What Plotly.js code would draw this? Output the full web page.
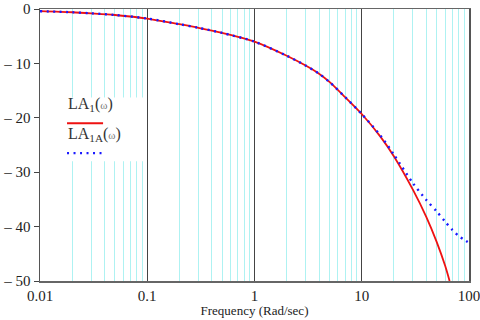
<!DOCTYPE html>
<html>
<head>
<meta charset="utf-8">
<script src="https://cdn.plot.ly/plotly-3.0.1.min.js"></script>
<style>html,body{margin:0;padding:0;background:#fff;overflow:hidden;}#chart{width:486px;height:320px;}</style>
</head>
<body>
<div id="chart"></div>
<script>
// Frequencies (rad/sec) and values
const freqRed = [0.01, 0.02, 0.03, 0.05, 0.1, 0.2, 0.3, 0.5, 1, 2, 3, 4, 5, 7, 10, 15, 20, 30, 40, 50, 60, 66];
const la1     = [-0.4, -0.6, -0.8, -1.1, -1.75, -2.8, -3.45, -4.4, -6.0, -8.6, -10.4, -11.9, -13.4, -16.2, -19.3, -23.5, -27.1, -33.2, -38.2, -42.8, -47.2, -50];
const freqBlue = [0.01, 0.02, 0.03, 0.05, 0.1, 0.2, 0.3, 0.5, 1, 2, 3, 4, 5, 7, 10, 15, 20, 30, 40, 50, 60, 70, 80, 90, 100];
const la1a     = [-0.4, -0.6, -0.8, -1.1, -1.75, -2.8, -3.45, -4.4, -6.0, -8.6, -10.4, -11.9, -13.4, -16.2, -19.3, -23.3, -26.8, -32.0, -35.1, -37.2, -39.1, -40.6, -41.7, -42.4, -43.0];
const xTickVals = [0.01, 0.1, 1, 10, 100];
const xTickText = ['0.01', '0.1', '1', '10', '100'];
const yTickVals = [0, -10, -20, -30, -40, -50];
const yTickText = ['0', '\u2013 10', '\u2013 20', '\u2013 30', '\u2013 40', '\u2013 50'];
const legendNames = ['LA<sub>1</sub>(<span style="font-size:11px;color:#777">\u03c9</span>)', 'LA<sub>1A</sub>(<span style="font-size:11px;color:#777">\u03c9</span>)'];

// minor grid positions: digits 2..9 of each decade (grid styling only)
const minorGrid = [];
[0.01, 0.1, 1, 10].forEach(d => { for (let k = 2; k <= 9; k++) minorGrid.push(+(d * k).toPrecision(3)); });

const serif = 'Liberation Serif, Times New Roman, serif';

const traces = [
  {x: freqRed, y: la1, type: 'scatter', mode: 'lines', line: {color: '#ee1111', width: 1.8, shape: 'spline', smoothing: 0.8}, showlegend: false},
  {x: freqBlue, y: la1a, type: 'scatter', mode: 'lines', line: {color: '#1a1aff', width: 2.4, dash: '2px,4.5px', shape: 'spline', smoothing: 0.8}, showlegend: false}
];

const layout = {
  width: 486, height: 320,
  margin: {l: 40, r: 17, t: 9, b: 39},
  paper_bgcolor: '#fff', plot_bgcolor: '#fff',
  showlegend: false,
  font: {family: serif, color: '#222'},
  xaxis: {
    type: 'log', range: [-2, 2.0005],
    tickmode: 'array', tickvals: xTickVals, ticktext: xTickText,
    tickfont: {size: 15, family: serif, color: '#222'},
    ticklabeloverflow: 'allow',
    showgrid: true, gridcolor: '#444', gridwidth: 1,
    minor: {tickmode: 'array', tickvals: minorGrid, showgrid: true, gridcolor: '#aef2f2', gridwidth: 1, ticks: ''},
    ticks: '', showline: true, linecolor: '#666', linewidth: 1.5, mirror: true,
    zeroline: false,
    title: {text: 'Frequency (Rad/sec)', font: {size: 13, family: serif, color: '#222'}, standoff: 2}
  },
  yaxis: {
    range: [-50, 0],
    tickmode: 'array', tickvals: yTickVals, ticktext: yTickText,
    tickfont: {size: 15, family: serif, color: '#222'},
    ticks: 'outside', ticklen: 5, tickcolor: '#444',
    showgrid: false, zeroline: false,
    showline: true, linecolor: '#555', linewidth: 1.5, mirror: true
  },
  shapes: [
    {type: 'rect', xref: 'paper', yref: 'paper', x0: 0.045, x1: 0.245, y0: 0.44, y1: 0.675, fillcolor: '#fff', line: {width: 0}, layer: 'above'},
    {type: 'line', xref: 'paper', yref: 'paper', x0: 0.063, x1: 0.147, y0: 0.58, y1: 0.58, line: {color: '#ee1111', width: 2}, layer: 'above'},
    {type: 'line', xref: 'paper', yref: 'paper', x0: 0.063, x1: 0.145, y0: 0.47, y1: 0.47, line: {color: '#1a1aff', width: 2.4, dash: '2px,4.5px'}, layer: 'above'}
  ],
  annotations: [
    {xref: 'paper', yref: 'paper', x: 0.061, y: 0.605, xanchor: 'left', yanchor: 'bottom', showarrow: false, text: legendNames[0], font: {size: 16, family: serif, color: '#333'}},
    {xref: 'paper', yref: 'paper', x: 0.061, y: 0.495, xanchor: 'left', yanchor: 'bottom', showarrow: false, text: legendNames[1], font: {size: 16, family: serif, color: '#333'}}
  ]
};

Plotly.newPlot('chart', traces, layout, {staticPlot: true, displayModeBar: false});
</script>
</body>
</html>
